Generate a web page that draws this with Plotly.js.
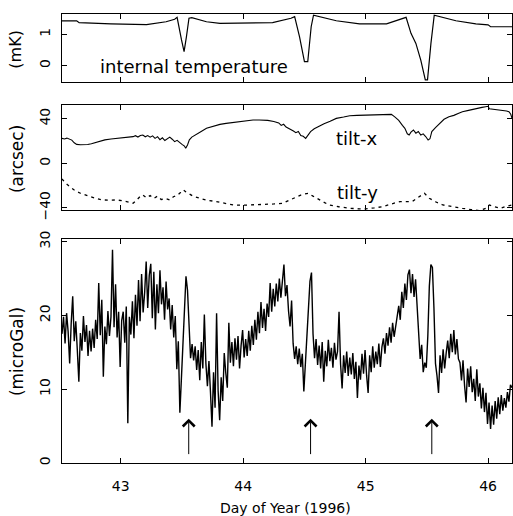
<!DOCTYPE html>
<html><head><meta charset="utf-8">
<script src="https://cdn.plot.ly/plotly-3.0.1.min.js"></script>
<style>html,body{margin:0;padding:0;background:#fff;} #chart{width:513px;height:516px;}</style>
</head><body><div id="chart"></div>
<script>
// ---- internal temperature (mK)
const tempDay = [42.52, 42.64, 42.66, 42.92, 43.21, 43.37, 43.44, 43.46, 43.496, 43.517, 43.536, 43.557, 43.58, 43.70, 43.81, 44.05, 44.24, 44.39, 44.42, 44.46, 44.50, 44.527, 44.555, 44.574, 44.76, 44.95, 45.17, 45.33, 45.37, 45.41, 45.45, 45.487, 45.505, 45.533, 45.56, 45.737, 45.90, 46.00, 46.02, 46.195];
const tempMK = [1.43, 1.43, 1.37, 1.33, 1.31, 1.40, 1.48, 1.54, 0.82, 0.45, 0.92, 1.51, 1.53, 1.40, 1.35, 1.35, 1.37, 1.51, 1.56, 0.92, 0.13, 0.13, 1.24, 1.61, 1.43, 1.33, 1.33, 1.54, 1.03, 0.71, 0.18, -0.45, -0.45, 0.71, 1.61, 1.43, 1.33, 1.30, 1.24, 1.24];

// ---- tilt-x (arcsec)
const tiltXDay = [42.52, 42.54, 42.56, 42.58, 42.60, 42.62, 42.64, 42.67, 42.70, 42.73, 42.76, 42.80, 42.83, 42.87, 42.92, 42.97, 43.02, 43.06, 43.10, 43.12, 43.14, 43.16, 43.18, 43.20, 43.22, 43.24, 43.26, 43.28, 43.30, 43.32, 43.34, 43.36, 43.38, 43.40, 43.42, 43.44, 43.46, 43.48, 43.50, 43.52, 43.53, 43.545, 43.56, 43.58, 43.60, 43.62, 43.66, 43.70, 43.75, 43.81, 43.86, 43.92, 43.97, 44.025, 44.08, 44.13, 44.20, 44.25, 44.29, 44.31, 44.33, 44.35, 44.38, 44.41, 44.43, 44.45, 44.47, 44.49, 44.51, 44.53, 44.55, 44.58, 44.62, 44.66, 44.71, 44.76, 44.82, 44.87, 44.93, 45.00, 45.08, 45.15, 45.21, 45.24, 45.27, 45.30, 45.32, 45.34, 45.355, 45.37, 45.39, 45.41, 45.43, 45.45, 45.47, 45.49, 45.51, 45.525, 45.54, 45.57, 45.60, 45.64, 45.68, 45.72, 45.76, 45.79, 45.84, 45.90, 45.95, 45.98, 46.00, 46.01, 46.04, 46.08, 46.12, 46.15, 46.17, 46.185, 46.195];
const tiltXArcsec = [22.4, 21.8, 22.6, 21.4, 20.8, 18.4, 17.0, 16.6, 16.4, 16.8, 17.6, 19.0, 20.3, 21.0, 21.8, 22.4, 23.0, 23.4, 23.9, 24.8, 23.6, 25.0, 25.4, 23.8, 24.9, 23.4, 24.6, 22.4, 23.9, 21.2, 22.9, 20.4, 22.0, 23.5, 21.6, 19.4, 20.6, 18.5, 17.0, 15.5, 13.4, 16.5, 21.0, 23.5, 25.0, 26.0, 28.8, 31.4, 33.3, 34.9, 35.8, 36.7, 37.4, 38.2, 38.8, 38.8, 38.5, 37.5, 36.2, 34.0, 35.0, 32.5, 31.0, 29.0, 27.5, 28.5, 25.0, 24.2, 22.4, 25.5, 28.4, 31.0, 33.5, 35.5, 37.8, 40.3, 41.5, 42.7, 43.0, 43.3, 43.4, 43.6, 43.9, 41.5, 38.5, 34.0, 31.4, 26.5, 25.4, 28.0, 29.9, 27.0, 28.5, 25.4, 26.4, 24.0, 20.9, 22.0, 28.4, 32.0, 35.3, 39.5, 41.8, 43.0, 45.0, 46.3, 47.5, 49.3, 50.2, 50.8, 51.2, 49.0, 48.7, 48.0, 47.8, 47.0, 46.3, 44.0, 40.3];

// ---- tilt-y (arcsec)
const tiltYDay = [42.52, 42.55, 42.585, 42.62, 42.67, 42.71, 42.75, 42.80, 42.85, 42.90, 42.97, 43.03, 43.10, 43.13, 43.16, 43.18, 43.21, 43.24, 43.27, 43.30, 43.33, 43.37, 43.40, 43.43, 43.46, 43.49, 43.51, 43.53, 43.55, 43.59, 43.645, 43.70, 43.78, 43.85, 43.92, 44.00, 44.08, 44.15, 44.25, 44.32, 44.38, 44.43, 44.47, 44.50, 44.53, 44.57, 44.60, 44.65, 44.70, 44.78, 44.87, 44.94, 45.00, 45.07, 45.14, 45.21, 45.28, 45.33, 45.38, 45.43, 45.48, 45.52, 45.57, 45.63, 45.70, 45.79, 45.86, 45.93, 45.98, 46.01, 46.05, 46.10, 46.15, 46.195];
const tiltYArcsec = [-14.0, -18.0, -21.0, -24.0, -26.9, -28.6, -29.9, -31.5, -32.9, -33.0, -32.9, -34.0, -35.9, -33.0, -29.5, -28.4, -31.0, -29.0, -31.5, -29.5, -32.5, -31.8, -32.9, -30.0, -29.0, -26.0, -23.9, -25.5, -26.9, -29.5, -31.4, -33.0, -34.4, -36.0, -37.4, -37.6, -37.4, -37.0, -36.5, -35.9, -33.0, -29.9, -28.5, -27.5, -26.9, -29.5, -31.4, -34.5, -37.4, -39.0, -40.4, -40.8, -40.9, -40.0, -38.9, -36.5, -34.4, -34.4, -34.4, -30.5, -26.9, -31.4, -34.5, -37.4, -39.0, -40.4, -41.5, -42.5, -40.5, -37.4, -39.0, -40.4, -38.5, -37.4];

// ---- gravity residual (microGal), regularly sampled
const gravityStartDay = 42.52;
const gravitySampleStep = 0.0125;
const gravityMicroGal = [
 17.5, 19.8, 16.2, 20.3, 17.8, 13.5, 18.9, 22.6, 16.5, 19.2, 15.3, 11.0, 17.6, 15.2, 19.9, 16.4, 18.7, 14.5, 17.9, 15.1,
 18.2, 15.6, 19.4, 16.8, 24.4, 17.3, 22.1, 11.7, 18.5, 16.1, 20.6, 17.2, 19.8, 28.9, 18.4, 24.2, 17.0, 20.5, 13.0, 19.3,
 20.5, 16.3, 21.2, 5.4, 19.8, 17.4, 21.9, 16.9, 22.8, 18.6, 24.8, 19.2, 25.6, 20.4, 23.1, 27.3, 21.0, 25.4, 27.0, 19.6,
 25.9, 18.1, 24.2, 20.3, 26.1, 21.5, 23.8, 19.4, 24.6, 20.8, 22.3, 18.1, 21.4, 17.0, 19.9, 12.7, 16.5, 6.8, 11.4, 16.2,
 22.8, 25.3, 23.4, 17.8, 14.2, 16.1, 13.9, 15.8, 12.6, 15.3, 11.2, 16.4, 12.8, 20.1, 13.5, 10.4, 13.8, 9.6, 4.9, 12.3,
 7.5, 20.3, 9.8, 5.8, 11.6, 8.4, 14.9, 12.2, 10.2, 19.0, 13.6, 16.4, 13.1, 16.9, 14.0, 17.2, 12.8, 15.9, 18.0, 14.3,
 16.8, 14.5, 17.9, 15.2, 18.6, 16.0, 19.4, 16.7, 20.5, 17.6, 21.8, 18.3, 20.9, 17.9, 21.6, 19.8, 24.4, 20.5, 23.6, 21.2,
 24.3, 21.9, 25.0, 22.4, 24.8, 26.9, 22.6, 24.1, 20.6, 18.5, 22.0, 16.2, 14.1, 15.8, 13.4, 15.5, 13.0, 14.8, 9.7, 13.6,
 16.9, 21.4, 24.6, 25.8, 17.5, 14.2, 16.8, 13.3, 15.9, 12.8, 16.4, 11.0, 15.2, 13.1, 16.7, 13.8, 15.6, 12.9, 16.3, 14.0,
 15.1, 20.5, 13.4, 10.1, 14.6, 12.2, 15.1, 11.8, 14.3, 12.0, 14.9, 11.4, 13.7, 8.8, 13.2, 11.3, 14.8, 12.1, 15.3, 11.9,
 9.5, 14.6, 12.3, 15.8, 12.9, 15.1, 13.4, 16.2, 13.0, 15.7, 16.9, 14.8, 17.6, 15.9, 18.4, 16.3, 19.0, 17.1, 18.7, 20.2,
 21.3, 19.4, 23.2, 21.0, 24.3, 22.1, 25.5, 26.2, 23.0, 25.6, 22.5, 24.9, 21.0, 17.4, 14.1, 16.0, 12.3, 13.6, 12.9, 17.2,
 24.0, 26.9, 26.5, 21.0, 13.5, 11.8, 9.5, 14.6, 12.2, 15.4, 12.8, 14.9, 16.6, 14.2, 17.5, 15.0, 18.0, 14.7, 16.8, 14.1,
 13.6, 11.2, 13.9, 10.5, 8.2, 12.8, 10.3, 13.1, 9.6, 11.4, 8.4, 12.7, 9.0, 10.8, 7.4, 10.2, 6.9, 9.5, 5.3, 8.2,
 4.6, 7.8, 5.2, 8.4, 6.0, 8.9, 6.6, 9.2, 7.1, 8.8, 7.5, 9.6, 8.3, 10.6, 10.2
];
const gravityDay = gravityMicroGal.map((_, i) => +(gravityStartDay + i * gravitySampleStep).toFixed(4));

// ---- axes / annotations data
const xTickDays = [43, 44, 45, 46];
const tempTicks = [0, 1];
const tiltTicks = [-40, 0, 40];
const gravTicks = [0, 10, 20, 30];
const arrowDays = [43.555, 44.55, 45.54];
const arrowTip = 6.0, arrowTail = 1.0;

const FONT = 'DejaVu Sans, sans-serif';
const black = '#000';

const traces = [
  {x: tempDay, y: tempMK, xaxis: 'x', yaxis: 'y', mode: 'lines', line: {color: black, width: 1.2}, hoverinfo: 'skip'},
  {x: tiltXDay, y: tiltXArcsec, xaxis: 'x2', yaxis: 'y2', mode: 'lines', line: {color: black, width: 1.1}, hoverinfo: 'skip'},
  {x: tiltYDay, y: tiltYArcsec, xaxis: 'x2', yaxis: 'y2', mode: 'lines', line: {color: black, width: 1.3, dash: '3px,4px'}, hoverinfo: 'skip'},
  {x: gravityDay, y: gravityMicroGal, xaxis: 'x3', yaxis: 'y3', mode: 'lines', line: {color: black, width: 1.4}, hoverinfo: 'skip'}
];

const xRange = [42.52, 46.195];
function xAx(anchor, labels) {
  return {anchor: anchor, range: xRange, tickvals: xTickDays, ticks: 'inside', ticklen: 5, tickcolor: black,
    showline: true, linecolor: black, linewidth: 1, mirror: 'ticks', showgrid: false, zeroline: false,
    showticklabels: labels, tickfont: {family: FONT, size: 14, color: black}, ticklabelstandoff: 10};
}
function yAx(domain, range, ticks) {
  return {domain: domain, range: range, tickvals: ticks, ticks: 'inside', ticklen: 5, tickcolor: black,
    showline: true, linecolor: black, linewidth: 1, mirror: 'ticks', showgrid: false, zeroline: false,
    tickangle: -90, tickfont: {family: FONT, size: 14, color: black}, ticklabelstandoff: 5};
}

const base = {showarrow: false, xanchor: 'center', yanchor: 'middle'};
const annotations = [
  Object.assign({xref: 'x', yref: 'y', x: 43.6, y: -0.02, text: 'internal temperature', font: {family: FONT, size: 18, color: black}}, base),
  Object.assign({xref: 'x2', yref: 'y2', x: 44.93, y: 22.7, text: 'tilt-x', font: {family: FONT, size: 18, color: black}}, base),
  Object.assign({xref: 'x2', yref: 'y2', x: 44.93, y: -26.0, text: 'tilt-y', font: {family: FONT, size: 18, color: black}}, base),
  Object.assign({xref: 'paper', yref: 'paper', x: -0.104, y: 0.921, text: '(mK)', textangle: -90, font: {family: FONT, size: 16, color: black}}, base),
  Object.assign({xref: 'paper', yref: 'paper', x: -0.100, y: 0.677, text: '(arcsec)', textangle: -90, font: {family: FONT, size: 17, color: black}}, base),
  Object.assign({xref: 'paper', yref: 'paper', x: -0.100, y: 0.247, text: '(microGal)', textangle: -90, font: {family: FONT, size: 17, color: black}}, base),
  Object.assign({xref: 'paper', yref: 'paper', x: 0.4956, y: -0.100, text: 'Day of Year (1996)', font: {family: FONT, size: 14, color: black}}, base)
];
arrowDays.forEach(d => annotations.push({
  xref: 'x3', yref: 'y3', axref: 'x3', ayref: 'y3', x: d, y: arrowTip, ax: d, ay: arrowTail,
  text: '', showarrow: true, arrowhead: 4, arrowsize: 2.3, arrowwidth: 1, arrowcolor: black
}));

const layout = {
  width: 513, height: 516, paper_bgcolor: '#fff', plot_bgcolor: '#fff', showlegend: false,
  margin: {l: 62, r: 1, t: 14, b: 53},
  xaxis: xAx('y', false), xaxis2: xAx('y2', false), xaxis3: xAx('y3', true),
  yaxis: yAx([0.8492, 1], [-0.51, 1.646], tempTicks),
  yaxis2: yAx([0.5635, 0.7973], [-41.9, 52.3], tiltTicks),
  yaxis3: yAx([0, 0.4989], [0, 30.35], gravTicks),
  annotations: annotations
};
Plotly.newPlot('chart', traces, layout, {staticPlot: true, displayModeBar: false});
</script></body></html>
